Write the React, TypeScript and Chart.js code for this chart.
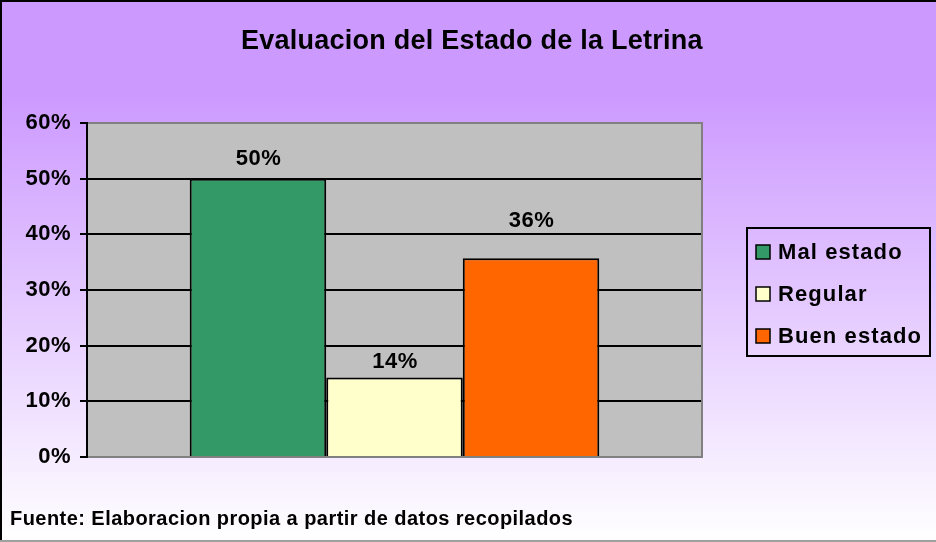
import React, { useEffect, useRef } from "react";
import { Chart, registerables } from "chart.js";

Chart.register(...registerables);

const categories = ["Evaluacion del Estado de la Letrina"];
const seriesLabels = ["Mal estado", "Regular", "Buen estado"];
const seriesValues = [50, 14.29, 35.71];
const seriesColors = ["#339966", "#FFFFCC", "#FF6600"];
const yMax = 60;
const yStep = 10;
const titleText = "Evaluacion del Estado de la Letrina";
const footnoteText = "Fuente: Elaboracion propia a partir de datos recopilados";

// style constants
const W = 936;
const H = 542;
const labelOffsets = [14, 9, 31];
const ARIAL = "'Liberation Sans', Arial, sans-serif";

const decor = {
  id: "decor",
  beforeDraw(chart: any) {
    const { ctx, chartArea: a } = chart;
    ctx.save();
    const g = ctx.createLinearGradient(0, 0, 0, H);
    g.addColorStop(0, "#CC99FF");
    g.addColorStop(0.17, "#CC99FF");
    g.addColorStop(1, "#FFFFFF");
    ctx.fillStyle = g;
    ctx.fillRect(0, 0, W, H);
    ctx.fillStyle = "#C0C0C0";
    ctx.fillRect(a.left, a.top, a.right - a.left, a.bottom - a.top);
    ctx.restore();
    // persists into the scale tick rendering
    (ctx as any).letterSpacing = "0.5px";
  },
  afterDatasetsDraw(chart: any) {
    const { ctx } = chart;
    ctx.save();
    (ctx as any).letterSpacing = "0.5px";
    ctx.fillStyle = "#000";
    ctx.font = `bold 22px ${ARIAL}`;
    ctx.textAlign = "center";
    ctx.textBaseline = "alphabetic";
    chart.data.datasets.forEach((ds: any, i: number) => {
      const meta = chart.getDatasetMeta(i);
      meta.data.forEach((bar: any, j: number) => {
        const v = ds.data[j];
        ctx.fillText(Math.round(v) + "%", bar.x + 0.5, bar.y - labelOffsets[i]);
      });
    });
    ctx.restore();
  },
  afterDraw(chart: any) {
    const { ctx, chartArea: a } = chart;
    ctx.save();
    // plot border (gray) top, right, bottom
    ctx.strokeStyle = "#808080";
    ctx.lineWidth = 2;
    ctx.beginPath();
    ctx.moveTo(a.left, a.top);
    ctx.lineTo(a.right, a.top);
    ctx.lineTo(a.right, a.bottom);
    ctx.lineTo(a.left, a.bottom);
    ctx.stroke();
    // left axis
    ctx.strokeStyle = "#000";
    ctx.beginPath();
    ctx.moveTo(a.left, a.top - 1);
    ctx.lineTo(a.left, a.bottom + 1);
    ctx.stroke();

    // title
    ctx.fillStyle = "#000";
    ctx.textBaseline = "alphabetic";
    ctx.textAlign = "left";
    ctx.font = `bold 27px ${ARIAL}`;
    (ctx as any).letterSpacing = "0.25px";
    ctx.fillText(titleText, 241, 49);

    // footnote
    ctx.font = `bold 20px ${ARIAL}`;
    (ctx as any).letterSpacing = "0.45px";
    ctx.fillText(footnoteText, 10, 525);

    // legend
    const lx = 747, ly = 228, lw = 183, lh = 128;
    ctx.strokeStyle = "#000";
    ctx.lineWidth = 2;
    ctx.strokeRect(lx, ly, lw, lh);
    ctx.font = `bold 22px ${ARIAL}`;
    (ctx as any).letterSpacing = "1.1px";
    seriesLabels.forEach((lab, i) => {
      const base = ly + 31 + i * 42;
      ctx.fillStyle = seriesColors[i];
      ctx.fillRect(lx + 9, base - 14, 14, 14);
      ctx.lineWidth = 1.5;
      ctx.strokeRect(lx + 9, base - 14, 14, 14);
      ctx.fillStyle = "#000";
      ctx.fillText(lab, lx + 31, base);
    });

    // outer border
    ctx.strokeStyle = "#000";
    ctx.lineWidth = 2;
    ctx.beginPath();
    ctx.moveTo(1, H);
    ctx.lineTo(1, 1);
    ctx.lineTo(W, 1);
    ctx.stroke();
    ctx.strokeStyle = "#A0A0A0";
    ctx.beginPath();
    ctx.moveTo(0, H - 1);
    ctx.lineTo(W, H - 1);
    ctx.stroke();
    ctx.restore();
  },
};

export default function App() {
  const ref = useRef<HTMLCanvasElement>(null);
  useEffect(() => {
    if (!ref.current) return;
    const chart = new Chart(ref.current, {
      type: "bar",
      data: {
        labels: categories,
        datasets: seriesLabels.map((lab, i) => ({
          label: lab,
          data: [seriesValues[i]],
          backgroundColor: seriesColors[i],
          borderColor: "#000",
          borderWidth: 2,
          categoryPercentage: 0.666,
          barPercentage: 1,
        })),
      },
      options: {
        responsive: false,
        animation: false,
        layout: { padding: { top: 123, left: 0, right: 234, bottom: 85 } },
        plugins: {
          legend: { display: false },
          title: { display: false },
          tooltip: { enabled: false },
        },
        scales: {
          x: { display: false },
          y: {
            min: 0,
            max: yMax,
            afterFit: (s: any) => {
              s.width = 87;
            },
            ticks: {
              stepSize: yStep,
              color: "#000",
              padding: 9,
              font: { family: ARIAL, size: 22, weight: "bold" },
              callback: (v: any) => v + "%",
            },
            grid: {
              color: (c: any) => (c.tick && c.tick.value === yMax ? "#808080" : "#000"),
              lineWidth: 2,
              tickLength: 7,
              tickColor: "#000",
            },
            border: { color: "#000", width: 2 },
          },
        },
      },
      plugins: [decor],
    });
    return () => chart.destroy();
  }, []);
  return (
    <div style={{ position: "absolute", left: 0, top: 0, width: W, height: H }}>
      <canvas ref={ref} width={W} height={H} style={{ display: "block" }} />
    </div>
  );
}
